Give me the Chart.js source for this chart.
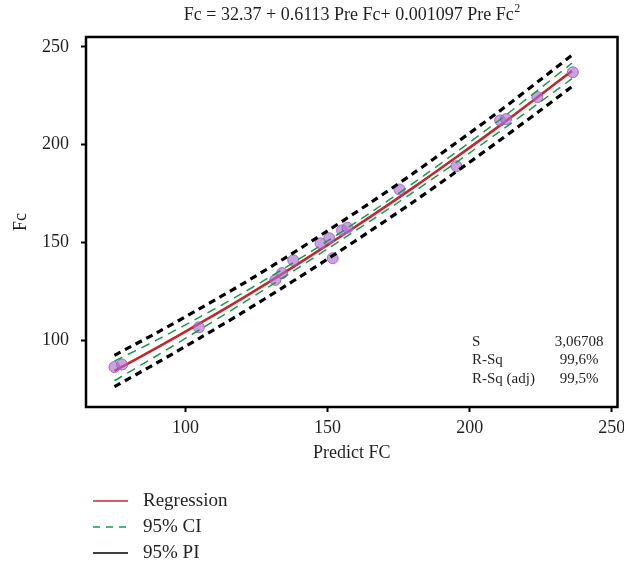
<!DOCTYPE html>
<html>
<head>
<meta charset="utf-8">
<script src="https://cdn.jsdelivr.net/npm/chart.js@4.4.1/dist/chart.umd.min.js"></script>
<style>
  html, body { margin: 0; padding: 0; background: #ffffff; }
  #wrap { width: 624px; height: 567px; position: relative; }
</style>
</head>
<body>
<div id="wrap"><canvas id="chart" width="624" height="567"></canvas></div>
<script>
// Observations: predicted vs measured Fc
const predictFc  = [75.0, 77.7, 104.7, 131.6, 134.0, 137.9, 147.5, 150.6, 151.8, 155.1, 157.0, 175.3, 195.3, 210.7, 212.8, 223.8, 236.3];
const measuredFc = [86.4, 87.7, 106.7, 130.9, 134.4, 141.0, 149.6, 152.2, 142.0, 156.2, 157.6, 177.1, 189.0, 212.4, 213.1, 224.3, 237.0];

// Fitted curve and its bands, sampled along Predict FC
const curveX   = [75, 90, 105, 120, 135, 150, 165, 180, 195, 210, 225, 236];
const fitted   = [84.4, 96.3, 108.7, 121.5, 134.9, 148.8, 163.1, 177.9, 193.3, 209.1, 225.5, 237.7];
const ciUpper  = [89.4, 100.3, 111.9, 124.1, 137.1, 150.8, 165.2, 180.2, 195.9, 212.1, 229.0, 241.7];
const ciLower  = [79.4, 92.3, 105.5, 118.9, 132.7, 146.8, 161.0, 175.6, 190.7, 206.1, 222.0, 233.7];
const piUpper  = [92.4, 104.0, 116.2, 128.8, 142.1, 156.0, 170.3, 185.2, 200.7, 216.6, 233.3, 245.7];
const piLower  = [76.4, 88.6, 101.2, 114.2, 127.7, 141.6, 155.9, 170.6, 185.9, 201.6, 217.7, 229.7];

const tickValues = [100, 150, 200, 250];

// Fit summary
const statNames  = ['S', 'R-Sq', 'R-Sq (adj)'];
const statValues = ['3,06708', '99,6%', '99,5%'];

// Legend entries
const legendNames = ['Regression', '95% CI', '95% PI'];

const SERIF = '"Liberation Serif", "DejaVu Serif", serif';
const TEXT = '#231f20';
const RED = '#c4262e';
const GREEN = '#1a9a4b';
const BLACK = '#000000';

const pts = (xs, ys) => xs.map((x, i) => ({ x: x, y: ys[i] }));

const lineDs = (label, ys, color, width, dash) => ({
  type: 'line',
  label: label,
  data: pts(curveX, ys),
  borderColor: color,
  borderWidth: width,
  borderDash: dash,
  pointRadius: 0,
  fill: false,
  tension: 0.3,
  showLine: true
});

const decorPlugin = {
  id: 'decor',
  afterDraw(chart) {
    const ctx = chart.ctx;
    const a = chart.chartArea;
    ctx.save();
    // plot frame
    ctx.strokeStyle = BLACK;
    ctx.lineWidth = 2.5;
    ctx.strokeRect(a.left, a.top, a.right - a.left, a.bottom - a.top);

    // equation title with superscript
    ctx.fillStyle = TEXT;
    ctx.textBaseline = 'alphabetic';
    const main = 'Fc = 32.37 + 0.6113 Pre Fc+ 0.001097 Pre Fc';
    ctx.font = '18px ' + SERIF;
    const w1 = ctx.measureText(main).width;
    ctx.font = '12px ' + SERIF;
    const w2 = ctx.measureText('2').width;
    const cx = (a.left + a.right) / 2;
    const x0 = cx - (w1 + w2) / 2;
    ctx.font = '18px ' + SERIF;
    ctx.textAlign = 'left';
    ctx.fillText(main, x0, 20);
    ctx.font = '12px ' + SERIF;
    ctx.fillText('2', x0 + w1 + 0.5, 12);

    // fit summary
    ctx.font = '15px ' + SERIF;
    ctx.textBaseline = 'middle';
    statNames.forEach((n, i) => {
      const y = 342 + i * 18.5;
      ctx.textAlign = 'left';
      ctx.fillText(n, 472, y);
      ctx.textAlign = 'center';
      ctx.fillText(statValues[i], 579, y);
    });

    // legend
    const styles = [
      { c: RED, d: [] },
      { c: GREEN, d: [7, 6] },
      { c: BLACK, d: [] }
    ];
    ctx.font = '19px ' + SERIF;
    legendNames.forEach((n, i) => {
      const y = 501 + i * 26;
      ctx.strokeStyle = styles[i].c;
      ctx.lineWidth = 1.3;
      ctx.setLineDash(styles[i].d);
      ctx.beginPath();
      ctx.moveTo(93, y);
      ctx.lineTo(128, y);
      ctx.stroke();
      ctx.setLineDash([]);
      ctx.textAlign = 'left';
      ctx.fillStyle = TEXT;
      ctx.fillText(n, 143, y);
    });
    ctx.restore();
  }
};

new Chart(document.getElementById('chart'), {
  type: 'scatter',
  data: {
    datasets: [
      lineDs('95% PI upper', piUpper, BLACK, 3.2, [7, 5]),
      lineDs('95% PI lower', piLower, BLACK, 3.2, [7, 5]),
      lineDs('95% CI upper', ciUpper, GREEN, 1.5, [9, 6]),
      lineDs('95% CI lower', ciLower, GREEN, 1.5, [9, 6]),
      {
        type: 'scatter',
        label: 'Fc',
        data: pts(predictFc, measuredFc),
        pointRadius: 5.5,
        pointBackgroundColor: 'rgba(172, 112, 206, 0.65)',
        pointBorderColor: 'rgba(145, 90, 188, 0.8)',
        pointBorderWidth: 1
      },
      lineDs('Regression', fitted, RED, 2.6, [])
    ]
  },
  options: {
    responsive: false,
    animation: false,
    devicePixelRatio: 1,
    layout: { padding: { top: 37, left: 0, right: 6, bottom: 100 } },
    plugins: {
      legend: { display: false },
      tooltip: { enabled: false }
    },
    scales: {
      x: {
        type: 'linear',
        min: 65,
        max: 252,
        afterBuildTicks(scale) { scale.ticks = tickValues.map(v => ({ value: v })); },
        afterFit(scale) { scale.height = 60; scale.paddingLeft = 0; scale.paddingRight = 0; },
        grid: { drawOnChartArea: false, drawTicks: true, tickLength: 5, tickWidth: 2, tickColor: BLACK },
        border: { display: false },
        ticks: { color: TEXT, font: { family: SERIF, size: 18 }, padding: 5, maxRotation: 0 },
        title: { display: true, text: 'Predict FC', color: TEXT, font: { family: SERIF, size: 18 }, padding: { top: 4, bottom: 3 } }
      },
      y: {
        type: 'linear',
        min: 66,
        max: 255,
        afterBuildTicks(scale) { scale.ticks = tickValues.map(v => ({ value: v })); },
        afterFit(scale) { scale.width = 86; scale.paddingTop = 0; scale.paddingBottom = 0; },
        grid: { drawOnChartArea: false, drawTicks: true, tickLength: 5, tickWidth: 2, tickColor: BLACK },
        border: { display: false },
        ticks: { color: TEXT, font: { family: SERIF, size: 18 }, padding: 12 },
        title: { display: true, text: 'Fc', color: TEXT, font: { family: SERIF, size: 18 }, padding: { top: 10, bottom: 4 } }
      }
    }
  },
  plugins: [decorPlugin]
});
</script>
</body>
</html>
